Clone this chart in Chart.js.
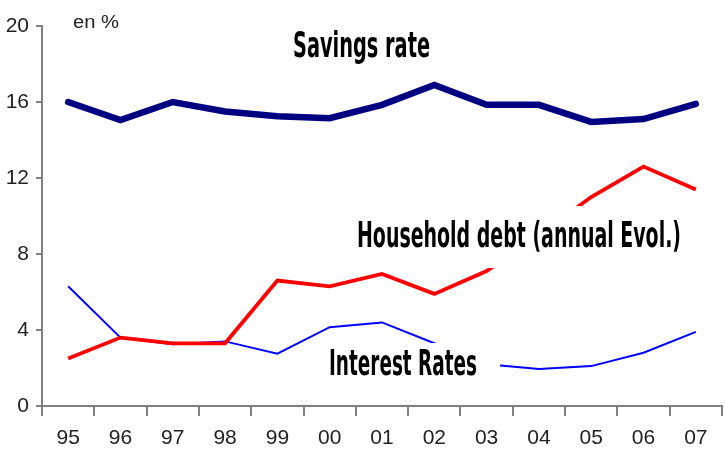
<!DOCTYPE html>
<html>
<head>
<meta charset="utf-8">
<script src="https://cdn.jsdelivr.net/npm/chart.js@4/dist/chart.umd.min.js"></script>
<style>
html,body{margin:0;padding:0;background:#fff;}
#wrap{width:725px;height:458px;}
</style>
</head>
<body>
<div id="wrap"><canvas id="c" width="725" height="458"></canvas></div>
<script>
const categories = ['95','96','97','98','99','00','01','02','03','04','05','06','07'];
const savingsRate = [16.0, 15.05, 16.0, 15.5, 15.25, 15.15, 15.85, 16.9, 15.85, 15.85, 14.95, 15.1, 15.9];
const householdDebt = [2.5, 3.6, 3.3, 3.3, 6.6, 6.3, 6.95, 5.9, 7.1, 9.0, 11.0, 12.6, 11.4];
const interestRates = [6.3, 3.6, 3.25, 3.4, 2.75, 4.15, 4.4, 3.3, 2.2, 1.95, 2.1, 2.8, 3.9];
const yTicks = [0, 4, 8, 12, 16, 20];
const unitLabel = 'en %';
const seriesLabels = ['Savings rate', 'Household debt (annual Evol.)', 'Interest Rates'];

const labelFont = 'bold 35px "DejaVu Sans Condensed", "DejaVu Sans", sans-serif';
const annotations = [
  {text: seriesLabels[0], x: 293, base: 57, w: 137, box: null},
  {text: seriesLabels[1], x: 357, base: 247, w: 324, box: [350, 206, 345, 62]},
  {text: seriesLabels[2], x: 329, base: 375, w: 148, box: [322, 343, 178, 42]}
];

const labelPlugin = {
  id: 'labels',
  afterDatasetsDraw(chart) {
    const ctx = chart.ctx;
    ctx.save();
    annotations.forEach(a => {
      if (a.box) {
        ctx.fillStyle = '#ffffff';
        ctx.fillRect(a.box[0], a.box[1], a.box[2], a.box[3]);
      }
      ctx.font = labelFont;
      const m = ctx.measureText(a.text).width;
      ctx.save();
      ctx.translate(a.x, a.base);
      ctx.scale(a.w / m, 1);
      ctx.fillStyle = '#000000';
      ctx.textBaseline = 'alphabetic';
      ctx.textAlign = 'left';
      ctx.fillText(a.text, 0, 0);
      ctx.restore();
    });
    ctx.font = '18px "Liberation Sans", Arial, sans-serif';
    const mu = ctx.measureText(unitLabel).width;
    ctx.translate(73, 28);
    ctx.scale(46 / mu, 1);
    ctx.fillStyle = '#222';
    ctx.textBaseline = 'alphabetic';
    ctx.fillText(unitLabel, 0, 0);
    ctx.restore();
  }
};

new Chart(document.getElementById('c'), {
  type: 'line',
  data: {
    labels: categories,
    datasets: [
      {label: seriesLabels[0], data: savingsRate, borderColor: '#000080', borderWidth: 6.5, pointRadius: 0, tension: 0, borderJoinStyle: 'miter', borderCapStyle: 'round'},
      {label: seriesLabels[1], data: householdDebt, borderColor: '#ff0000', borderWidth: 3.8, pointRadius: 0, tension: 0, borderJoinStyle: 'miter'},
      {label: seriesLabels[2], data: interestRates, borderColor: '#0000ff', borderWidth: 2, pointRadius: 0, tension: 0}
    ]
  },
  options: {
    responsive: false,
    animation: false,
    devicePixelRatio: 1,
    layout: {padding: {top: 26, right: 3, left: 0, bottom: 0}},
    plugins: {legend: {display: false}, tooltip: {enabled: false}},
    scales: {
      x: {
        type: 'category',
        offset: true,
        grid: {display: true, offset: true, drawOnChartArea: false, drawTicks: true, tickLength: 10, color: '#808080', lineWidth: 2},
        border: {display: true, color: '#808080', width: 2},
        ticks: {color: '#222', font: {family: '"Liberation Sans", Arial, sans-serif', size: 21}, padding: 10, maxRotation: 0, autoSkip: false},
        afterFit(scale) { scale.height = 52; }
      },
      y: {
        min: 0, max: 20,
        afterBuildTicks(scale) { scale.ticks = yTicks.map(v => ({value: v})); },
        grid: {display: true, drawOnChartArea: false, drawTicks: true, tickLength: 6, color: '#808080', lineWidth: 2},
        border: {display: true, color: '#808080', width: 2},
        ticks: {color: '#222', font: {family: '"Liberation Sans", Arial, sans-serif', size: 21}, padding: 7},
        afterFit(scale) { scale.width = 42; }
      }
    }
  },
  plugins: [labelPlugin]
});
</script>
</body>
</html>
